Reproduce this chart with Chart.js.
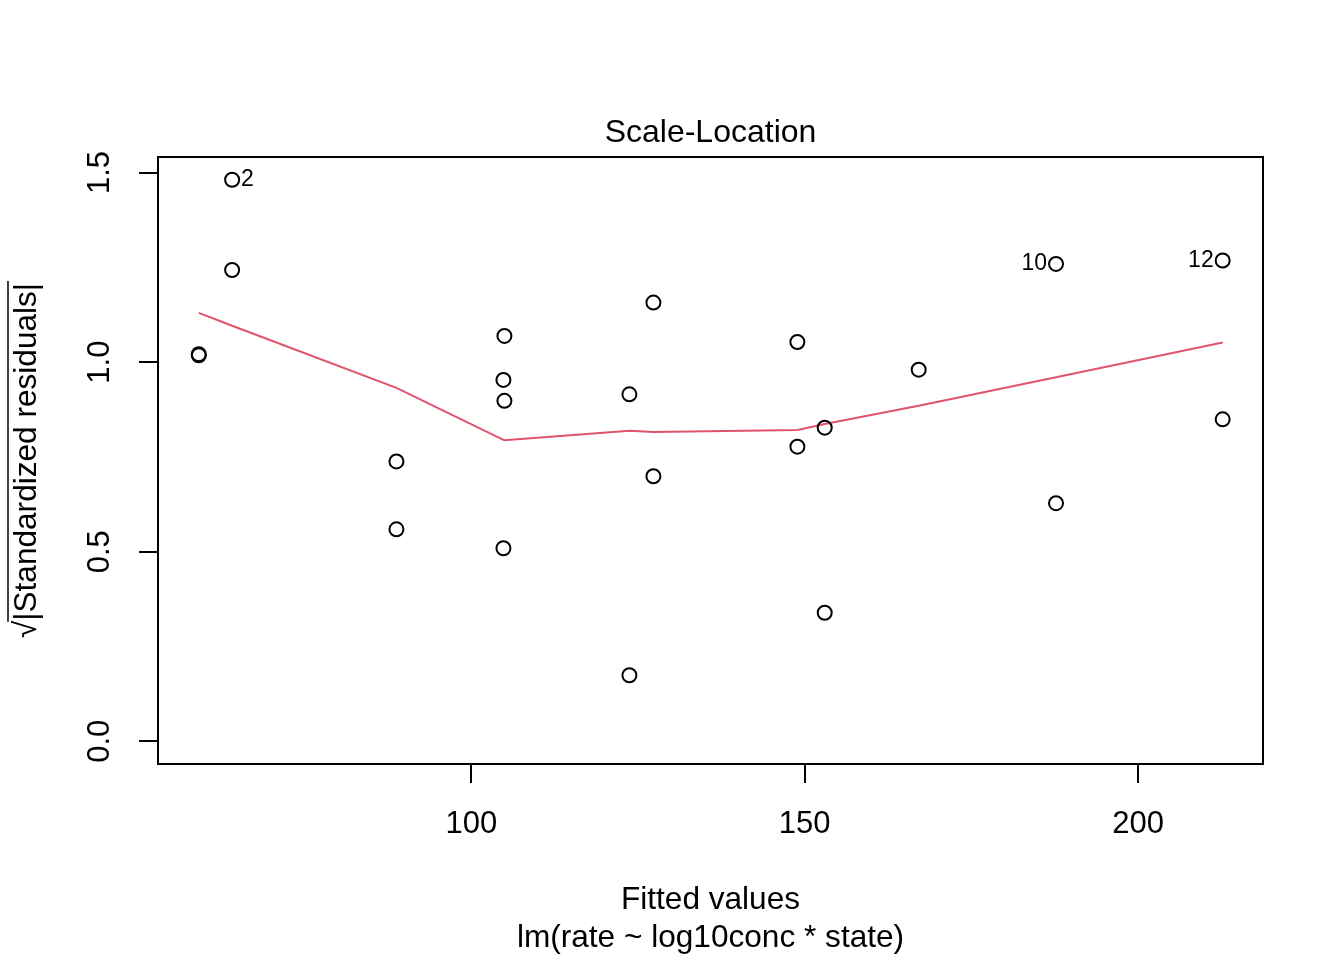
<!DOCTYPE html>
<html>
<head>
<meta charset="utf-8">
<title>Scale-Location</title>
<script src="https://cdn.jsdelivr.net/npm/chart.js@4.4.1/dist/chart.umd.min.js"></script>
<style>
  html, body { margin: 0; padding: 0; background: #fff; }
  #chart { display: block; }
</style>
</head>
<body>
<canvas id="chart" width="1344" height="960"></canvas>
<script>
// fitted values and sqrt(|standardized residuals|), one entry per observation
var fitted = [64.1, 64.1, 104.95, 104.95, 127.3, 127.3, 153.0, 153.0, 187.7, 187.7, 212.7, 212.7,
  59.1, 59.1, 88.75, 88.75, 104.8, 104.8, 123.7, 123.7, 148.9, 148.9, 167.1];
var sqrtStdRes = [1.243, 1.481, 1.069, 0.898, 1.157, 0.699, 0.827, 0.339, 0.628, 1.259, 0.849, 1.268,
  1.021, 1.018, 0.738, 0.559, 0.953, 0.509, 0.915, 0.174, 1.053, 0.777, 0.980];

// labelled observations
var idIndex = [1, 9, 11];
var idText = ['2', '10', '12'];

// smoother (red line)
var lowessX = [59.1, 64.1, 88.75, 104.8, 104.95, 123.7, 127.3, 148.9, 153.0, 167.1, 187.7, 212.7];
var lowessY = [1.130, 1.096, 0.932, 0.795, 0.794, 0.819, 0.816, 0.821, 0.837, 0.885, 0.960, 1.052];

var xTicks = [100, 150, 200];
var yTicks = [0, 0.5, 1, 1.5];

var mainTitle = 'Scale-Location';
var xTitle = ['Fitted values', 'lm(rate ~ log10conc * state)'];
var yTitle = '\u221A|Standardized residuals|';

var FONT = "'Liberation Sans', Arial, Helvetica, sans-serif";
Chart.defaults.font.family = FONT;
Chart.defaults.color = '#000';

var yTitlePad = 8;

// box around the plot region, like R's box()
var framePlugin = {
  id: 'frame',
  afterDraw: function(chart) {
    var a = chart.chartArea, ctx = chart.ctx;
    ctx.save();
    ctx.strokeStyle = '#000';
    ctx.lineWidth = 2;
    ctx.strokeRect(a.left, a.top, a.right - a.left, a.bottom - a.top);
    ctx.restore();
  }
};

// the bar over the square root in the y title
var radicalPlugin = {
  id: 'radical',
  afterDraw: function(chart) {
    var ys = chart.scales.y, ctx = chart.ctx;
    var font = Chart.helpers.toFont(ys.options.title.font);
    ctx.save();
    ctx.font = font.string;
    var w = ctx.measureText(yTitle).width;
    var w1 = ctx.measureText('\u221A').width;
    var cx = ys.left + yTitlePad + font.lineHeight / 2;
    var cy = (ys.top + ys.bottom) / 2;
    var x = cx - font.size * 0.6;
    ctx.strokeStyle = '#000';
    ctx.lineWidth = 1.5;
    ctx.beginPath();
    ctx.moveTo(x, cy + w / 2 - w1 + 1);
    ctx.lineTo(x, cy - w / 2 - 2);
    ctx.stroke();
    ctx.restore();
  }
};

// id labels next to the largest residuals
var idPlugin = {
  id: 'idLabels',
  afterDatasetsDraw: function(chart) {
    var meta = chart.getDatasetMeta(0), ctx = chart.ctx;
    var mid = (chart.chartArea.left + chart.chartArea.right) / 2;
    ctx.save();
    ctx.font = '23px ' + FONT;
    ctx.fillStyle = '#000';
    ctx.textBaseline = 'middle';
    idIndex.forEach(function(i, k) {
      var pt = meta.data[i];
      if (pt.x < mid) {
        ctx.textAlign = 'left';
        ctx.fillText(idText[k], pt.x + 9, pt.y);
      } else {
        ctx.textAlign = 'right';
        ctx.fillText(idText[k], pt.x - 9, pt.y);
      }
    });
    ctx.restore();
  }
};

var points = fitted.map(function(x, i) { return {x: x, y: sqrtStdRes[i]}; });
var smooth = lowessX.map(function(x, i) { return {x: x, y: lowessY[i]}; });

var ctx = document.getElementById('chart').getContext('2d');

new Chart(ctx, {
  type: 'scatter',
  data: {
    datasets: [
      {
        label: 'residuals',
        data: points,
        showLine: false,
        pointRadius: 7,
        pointBorderWidth: 2,
        pointBorderColor: '#000',
        pointBackgroundColor: 'rgba(0,0,0,0)',
        order: 1
      }, {
        label: 'smooth',
        data: smooth,
        showLine: true,
        borderColor: '#DF536B',
        borderWidth: 2,
        pointRadius: 0,
        tension: 0,
        fill: false,
        order: 2
      }
    ]
  },
  options: {
    responsive: false,
    animation: false,
    devicePixelRatio: 1,
    layout: { padding: { left: 0, top: 0, right: 81, bottom: 0 } },
    plugins: {
      legend: { display: false },
      tooltip: { enabled: false },
      title: {
        display: true,
        text: mainTitle,
        fullSize: false,
        color: '#000',
        font: { size: 32, weight: 'normal', lineHeight: 1.2 },
        padding: { top: 114.4, bottom: 4.2 }
      }
    },
    scales: {
      x: {
        type: 'linear',
        position: 'bottom',
        min: 52.98,
        max: 218.75,
        afterBuildTicks: function(scale) {
          scale.ticks = xTicks.map(function(v) { return {value: v}; });
        },
        afterFit: function(scale) { scale.height = 196; },
        grid: { drawOnChartArea: false, drawTicks: true, tickLength: 19, color: '#000', lineWidth: 2 },
        border: { display: true, color: '#000', width: 2 },
        ticks: {
          autoSkip: false,
          maxRotation: 0,
          padding: 23,
          color: '#000',
          font: { size: 31 },
          callback: function(v) { return String(v); }
        },
        title: {
          display: true,
          text: xTitle,
          color: '#000',
          font: { size: 31.6, lineHeight: 1.2 },
          padding: { top: 0, bottom: 2.5 }
        }
      },
      y: {
        type: 'linear',
        position: 'left',
        min: -0.060,
        max: 1.541,
        afterBuildTicks: function(scale) {
          scale.ticks = yTicks.map(function(v) { return {value: v}; });
        },
        afterFit: function(scale) { scale.width = 158; },
        grid: { drawOnChartArea: false, drawTicks: true, tickLength: 19, color: '#000', lineWidth: 2 },
        border: { display: true, color: '#000', width: 2 },
        ticks: {
          autoSkip: false,
          minRotation: 90,
          maxRotation: 90,
          crossAlign: 'center',
          padding: 16.5,
          color: '#000',
          font: { size: 31 },
          callback: function(v) { return v.toFixed(1); }
        },
        title: {
          display: true,
          text: yTitle,
          color: '#000',
          font: { size: 31.6, lineHeight: 1.2 },
          padding: { top: yTitlePad, bottom: 0 }
        }
      }
    }
  },
  plugins: [framePlugin, radicalPlugin, idPlugin]
});
</script>
</body>
</html>
